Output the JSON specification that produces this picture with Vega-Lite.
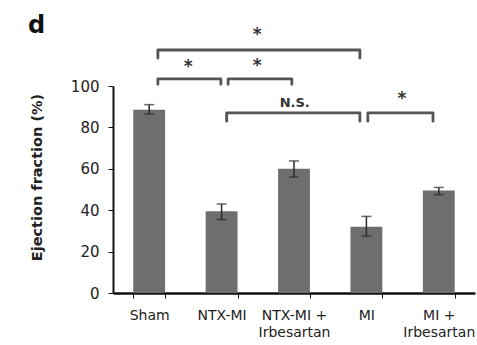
{
  "$schema": "https://vega.github.io/schema/vega-lite/v6.json",
  "autosize": "none",
  "width": 362,
  "height": 207,
  "padding": {"left": 113, "top": 86, "right": 2, "bottom": 52},
  "background": "white",
  "title": {"text": "d", "anchor": "start", "frame": "group", "fontSize": 24, "fontWeight": "bold", "font": "DejaVu Sans", "color": "#111", "dx": -85, "baseline": "alphabetic", "offset": 0, "dy": 31},
  "config": {
    "view": {"stroke": null},
    "font": "DejaVu Sans",
    "axis": {"grid": false, "domainColor": "#111", "tickColor": "#111", "labelColor": "#222", "titleColor": "#222"}
  },
  "resolve": {"scale": {"x": "independent"}, "axis": {"y": "independent", "x": "independent"}},
  "layer": [
    {
      "data": {"values": [
        {"g": "Sham", "v": 88.5, "lo": 86.5, "hi": 91},
        {"g": "NTX-MI", "v": 39.5, "lo": 35.5, "hi": 43},
        {"g": "NTX-MI + Irbesartan", "v": 60, "lo": 56, "hi": 63.8},
        {"g": "MI", "v": 32, "lo": 27.5, "hi": 37},
        {"g": "MI + Irbesartan", "v": 49.5, "lo": 47.5, "hi": 51}
      ]},
      "encoding": {
        "x": {"field": "g", "type": "nominal", "sort": null,
          "scale": {"paddingInner": 0.56, "paddingOuter": 0.28},
          "axis": {"title": null, "labelAngle": 0, "domainWidth": 2.5, "tickBand": "extent", "tickSize": 5, "labelFontSize": 14, "labelPadding": 10, "labelLineHeight": 17,
            "labelExpr": "datum.value ? split(replace(datum.value, '+ ', '+|'), '|') : ''"}}
      },
      "layer": [
        {"mark": {"type": "bar", "color": "#6e6e6e"},
         "encoding": {"y": {"field": "v", "type": "quantitative", "scale": {"domain": [0, 100], "nice": false},
           "axis": {"title": "Ejection fraction (%)", "values": [0, 20, 40, 60, 80, 100], "domainWidth": 2, "tickSize": 5, "labelFontSize": 15, "labelPadding": 9, "titleFontSize": 14.5, "titleFontWeight": "bold", "titlePadding": 26, "titleY": 91}}}},
        {"mark": {"type": "rule", "color": "#2a2a2a", "strokeWidth": 1.5},
         "encoding": {"y": {"field": "lo", "type": "quantitative"}, "y2": {"field": "hi"}}},
        {"mark": {"type": "tick", "color": "#2a2a2a", "size": 10, "thickness": 1.5},
         "encoding": {"y": {"field": "hi", "type": "quantitative"}}},
        {"mark": {"type": "tick", "color": "#2a2a2a", "size": 10, "thickness": 1.5},
         "encoding": {"y": {"field": "lo", "type": "quantitative"}}}
      ]
    },
    {
      "layer": [
        {
          "data": {"values": [
            {"b": "top", "o": 1, "x": 0.62, "y": 113.5},
            {"b": "top", "o": 2, "x": 0.62, "y": 117.4},
            {"b": "top", "o": 3, "x": 3.41, "y": 117.4},
            {"b": "top", "o": 4, "x": 3.41, "y": 113.5},
            {"b": "a", "o": 1, "x": 0.62, "y": 100.8},
            {"b": "a", "o": 2, "x": 0.62, "y": 103.4},
            {"b": "a", "o": 3, "x": 1.49, "y": 103.4},
            {"b": "a", "o": 4, "x": 1.49, "y": 100.8},
            {"b": "b", "o": 1, "x": 1.59, "y": 100.8},
            {"b": "b", "o": 2, "x": 1.59, "y": 103.4},
            {"b": "b", "o": 3, "x": 2.47, "y": 103.4},
            {"b": "b", "o": 4, "x": 2.47, "y": 100.8},
            {"b": "ns", "o": 1, "x": 1.57, "y": 83},
            {"b": "ns", "o": 2, "x": 1.57, "y": 87},
            {"b": "ns", "o": 3, "x": 3.41, "y": 87},
            {"b": "ns", "o": 4, "x": 3.41, "y": 83},
            {"b": "d", "o": 1, "x": 3.52, "y": 83},
            {"b": "d", "o": 2, "x": 3.52, "y": 87},
            {"b": "d", "o": 3, "x": 4.42, "y": 87},
            {"b": "d", "o": 4, "x": 4.42, "y": 83}
          ]},
          "mark": {"type": "line", "color": "#555", "strokeWidth": 2.8, "strokeJoin": "round", "strokeCap": "round", "clip": false},
          "encoding": {
            "x": {"field": "x", "type": "quantitative", "scale": {"domain": [0, 5], "nice": false, "zero": false}, "axis": null},
            "y": {"field": "y", "type": "quantitative", "scale": {"domain": [0, 100], "nice": false}, "axis": null},
            "detail": {"field": "b"},
            "order": {"field": "o"}
          }
        },
        {
          "data": {"values": [
            {"x": 1.99, "y": 124.6, "t": "*", "k": "s"},
            {"x": 1.04, "y": 109, "t": "*", "k": "s"},
            {"x": 1.99, "y": 109.5, "t": "*", "k": "s"},
            {"x": 3.99, "y": 93.7, "t": "*", "k": "s"},
            {"x": 2.51, "y": 91.8, "t": "N.S.", "k": "n"}
          ]},
          "mark": {"type": "text", "color": "#333", "fontWeight": "bold", "baseline": "middle", "clip": false},
          "encoding": {
            "x": {"field": "x", "type": "quantitative", "scale": {"domain": [0, 5], "nice": false, "zero": false}, "axis": null},
            "y": {"field": "y", "type": "quantitative", "scale": {"domain": [0, 100], "nice": false}, "axis": null},
            "text": {"field": "t"},
            "size": {"field": "k", "type": "nominal", "scale": {"domain": ["s", "n"], "range": [17, 13]}, "legend": null},
            "yOffset": {"field": "k", "type": "nominal", "scale": {"domain": ["s", "n"], "range": [6, 0]}}
          }
        }
      ]
    }
  ]
}
